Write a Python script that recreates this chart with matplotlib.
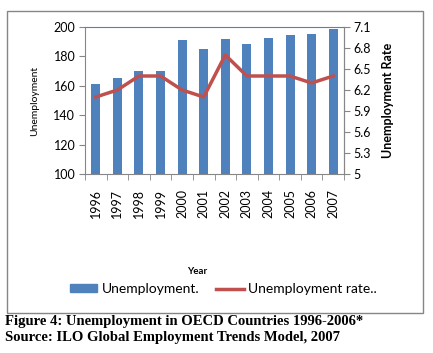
import matplotlib.pyplot as plt
from matplotlib.patches import Rectangle, Patch
from matplotlib.lines import Line2D

years = ["1996", "1997", "1998", "1999", "2000", "2001", "2002", "2003", "2004", "2005", "2006", "2007"]
unemployment = [161.5, 165, 170, 170, 191, 185, 191.5, 188.5, 192.5, 194.5, 195.5, 198.5]
rate = [6.1, 6.2, 6.4, 6.4, 6.2, 6.1, 6.7, 6.4, 6.4, 6.4, 6.3, 6.4]

blue = "#4F81BD"
red = "#C0504D"
grey = "#868686"

plt.rcParams['font.family'] = ['Lato', 'DejaVu Sans']

fig = plt.figure(figsize=(4.33, 3.53), dpi=100)

# outer chart border
fig.patches.append(Rectangle((7/433, 1-313/353), 416/433, 302/353, transform=fig.transFigure,
                             fill=False, edgecolor=grey, linewidth=1))

ax = fig.add_axes([85/433, 1-174/353, 259/433, 147/353])
x = list(range(len(years)))
ax.bar(x, unemployment, width=0.42, color=blue, zorder=2)
ax.set_ylim(100, 200)
ax.set_yticks(range(100, 201, 20))
ax.set_xlim(-0.5, len(years) - 0.5)
ax.set_xticks(x)
ax.set_xticklabels(years, rotation=90, fontsize=9)
ax.set_xticks([i - 0.5 for i in range(len(years) + 1)], minor=True)
ax.tick_params(axis='x', which='major', length=0, pad=11)
ax.tick_params(axis='x', which='minor', length=4, color=grey, direction='out')
ax.tick_params(axis='y', length=4, color=grey, labelsize=9, pad=3)
for s in ["left", "bottom", "right"]:
    ax.spines[s].set_color(grey)
ax.spines["top"].set_color("#5a7fb0")
ax.set_ylabel("Unemployment", fontsize=7.5, labelpad=10)

ax2 = ax.twinx()
ax2.plot(x, rate, color=red, linewidth=2.5, zorder=3)
ax2.set_ylim(5, 7.1)
ax2.set_yticks([5, 5.3, 5.6, 5.9, 6.2, 6.5, 6.8, 7.1])
ax2.set_yticklabels(["5", "5.3", "5.6", "5.9", "6.2", "6.5", "6.8", "7.1"])
ax2.tick_params(axis='y', length=4, color=grey, labelsize=9, pad=3)
for s in ax2.spines.values():
    s.set_visible(False)
ax2.spines["right"].set_visible(True)
ax2.spines["right"].set_color(grey)
ax2.set_ylabel("Unemployment Rate", fontsize=9, fontweight="bold", labelpad=8)

fig.text(197/433, 1-271/353, "Year", fontsize=7, fontweight="bold", ha="center", va="center")

handles = [Patch(color=blue), Line2D([0], [0], color=red, linewidth=2.5)]
fig.legend(handles, ["Unemployment.", "Unemployment rate.."], loc="center",
           bbox_to_anchor=(223/433, 1-289/353), ncol=2, frameon=False, fontsize=10,
           handlelength=2.0, handleheight=0.5, columnspacing=1.2, handletextpad=0.3)

fig.text(5/433, 1-322/353, "Figure 4: Unemployment in OECD Countries 1996-2006*",
         family="Liberation Serif", fontweight="bold", fontsize=10.5, va="center")
fig.text(5/433, 1-338/353, "Source: ILO Global Employment Trends Model, 2007",
         family="Liberation Serif", fontweight="bold", fontsize=10.5, va="center")

fig.savefig("out.png", dpi=100)
